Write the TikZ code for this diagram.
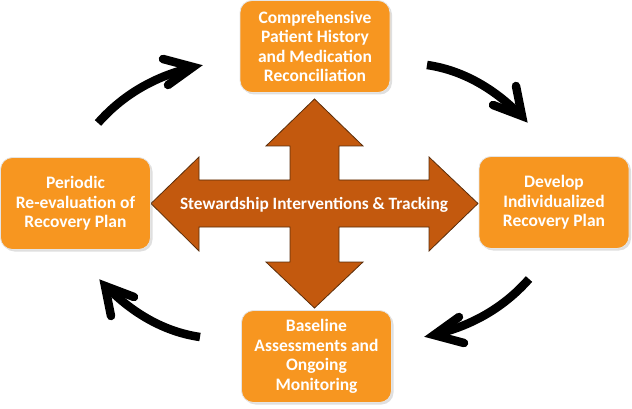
\documentclass[tikz,border=0pt]{standalone}
\usepackage{fontspec}
\setmainfont{Carlito}
\usetikzlibrary{shadows}
\definecolor{boxorange}{RGB}{247,150,32}
\definecolor{crossorange}{RGB}{195,89,14}
\definecolor{crossline}{RGB}{90,45,10}
\tikzset{
  stagebox/.style={rounded corners=12pt, fill=boxorange, draw=white!80!gray, line width=0.8pt,
    minimum width=150pt, minimum height=92pt, align=center, text=white,
    font=\bfseries\fontsize{17.5}{19.5}\selectfont,
    drop shadow={opacity=0.25, shadow xshift=2pt, shadow yshift=-2pt}},
  cyclearrow/.style={line width=8.5pt, black},
  cyclehead/.style={line width=8.5pt, black, line cap=round, line join=miter, miter limit=20},
  hubtext/.style={text=white, font=\bfseries\fontsize{17.3}{20}\selectfont}
}
\begin{document}
\begin{tikzpicture}[x=1pt,y=-1pt]
\useasboundingbox (0,0) rectangle (632,409);
% central cross arrow
\fill[crossorange, draw=crossline, line width=0.8pt, line join=miter]
 (151,203.5) -- (199,157) -- (199,180) -- (290,180) -- (290,146) -- (266,146) -- (314.5,99)
 -- (363,146) -- (339,146) -- (339,180) -- (429,180) -- (429,157) -- (478,203.5)
 -- (429,251) -- (429,227) -- (339,227) -- (339,262) -- (363,262) -- (314.5,308)
 -- (266,262) -- (290,262) -- (290,227) -- (199,227) -- (199,251) -- cycle;
\node[hubtext] (hub) at (314,205) {Stewardship Interventions \& Tracking};
% stage boxes
\node[stagebox] (top) at (315,46.5) {Comprehensive\\Patient History\\and Medication\\Reconciliation};
\node[stagebox] (right) at (554,202.5) {Develop\\Individualized\\Recovery Plan};
\node[stagebox] (bottom) at (316.5,356.5) {Baseline\\Assessments and\\Ongoing\\Monitoring};
\node[stagebox] (left) at (75.5,203.5) {Periodic\\Re-evaluation of\\Recovery Plan};
% cycle arrows: named coordinates
\coordinate (tlA) at (98,123);  \coordinate (tlB) at (190,68);
\coordinate (tlV) at (193,67);  \coordinate (tlP) at (163,59); \coordinate (tlQ) at (168,85);
\coordinate (trA) at (427,65);  \coordinate (trB) at (515,110);
\coordinate (trV) at (522,116); \coordinate (trP) at (516,86); \coordinate (trQ) at (493,105);
\coordinate (brA) at (529,279); \coordinate (brB) at (437,334);
\coordinate (brV) at (434,335); \coordinate (brP) at (464,343); \coordinate (brQ) at (459,317);
\coordinate (blA) at (200,337); \coordinate (blB) at (112,292);
\coordinate (blV) at (105,286); \coordinate (blP) at (111,316); \coordinate (blQ) at (134,297);
\draw[cyclearrow] (tlA) .. controls (120,98) and (150,78) .. (tlB);
\draw[cyclehead] (tlP) -- (tlV) -- (tlQ);
\draw[cyclearrow] (trA) .. controls (462,70) and (492,88) .. (trB);
\draw[cyclehead] (trP) -- (trV) -- (trQ);
\draw[cyclearrow] (brA) .. controls (507,304) and (477,324) .. (brB);
\draw[cyclehead] (brP) -- (brV) -- (brQ);
\draw[cyclearrow] (blA) .. controls (165,332) and (135,314) .. (blB);
\draw[cyclehead] (blP) -- (blV) -- (blQ);
\end{tikzpicture}
\end{document}
